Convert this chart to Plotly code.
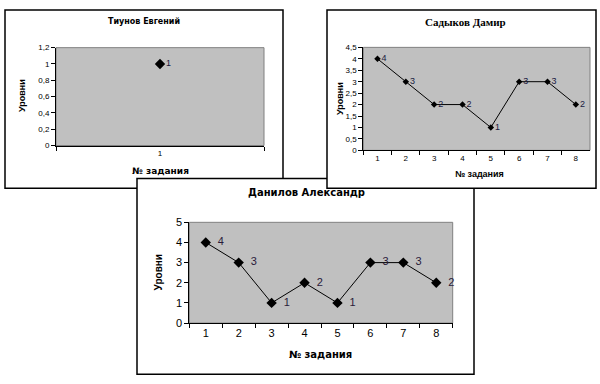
import plotly.graph_objects as go

# ---- data ----
tiunov_tasks = ["1"]
tiunov_levels = [1]

sadykov_tasks = ["1", "2", "3", "4", "5", "6", "7", "8"]
sadykov_levels = [4, 3, 2, 2, 1, 3, 3, 2]

danilov_tasks = ["1", "2", "3", "4", "5", "6", "7", "8"]
danilov_levels = [4, 3, 1, 2, 1, 3, 3, 2]

titles = ["Тиунов Евгений", "Садыков Дамир", "Данилов Александр"]
y_title = "Уровни"
x_title = "№ задания"

W, H = 600, 384


def px(x):
    return x / W


def py(y):
    return 1 - y / H


SANS = "Liberation Sans, Arial, sans-serif"
WIDE = "DejaVu Sans, Arial, sans-serif"
SERIF = "Liberation Serif"

fig = go.Figure()

fig.add_trace(go.Scatter(
    x=tiunov_tasks, y=tiunov_levels, xaxis="x", yaxis="y",
    mode="lines+markers+text", text=[str(v) for v in tiunov_levels],
    textposition="middle right", cliponaxis=False,
    line=dict(color="black", width=1),
    marker=dict(symbol="diamond", size=8, color="black"),
    textfont=dict(family=SANS, size=9, color="#1a1a40"),
    showlegend=False))

fig.add_trace(go.Scatter(
    x=sadykov_tasks, y=sadykov_levels, xaxis="x2", yaxis="y2",
    mode="lines+markers+text", text=[str(v) for v in sadykov_levels],
    textposition="middle right", cliponaxis=False,
    line=dict(color="black", width=1),
    marker=dict(symbol="diamond", size=5, color="black"),
    textfont=dict(family=SANS, size=9, color="#1a1a40"),
    showlegend=False))

fig.add_trace(go.Scatter(
    x=danilov_tasks, y=danilov_levels, xaxis="x3", yaxis="y3",
    mode="lines+markers+text", text=["  " + str(v) for v in danilov_levels],
    textposition="middle right", cliponaxis=False,
    line=dict(color="black", width=1),
    marker=dict(symbol="diamond", size=8, color="black"),
    textfont=dict(family=SANS, size=11, color="#2a1a3a"),
    showlegend=False))


def xax(domain, n, size):
    return dict(domain=domain, type="category", range=[-0.5, n - 0.5],
                tickson="boundaries", ticks="outside", ticklen=4,
                tickcolor="black", showline=True, linecolor="black",
                linewidth=1, showgrid=False, zeroline=False,
                tickfont=dict(family=SANS, size=size, color="black"),
                fixedrange=True)


def yax(domain, anchor, rng, dtick, size):
    return dict(domain=domain, anchor=anchor, range=rng, dtick=dtick,
                tick0=0, ticks="outside", ticklen=4, tickcolor="black",
                showline=True, linecolor="black", linewidth=1,
                showgrid=False, zeroline=False,
                tickfont=dict(family=SANS, size=size, color="black"),
                fixedrange=True)


layout = dict(
    width=W, height=H,
    margin=dict(l=0, r=0, t=0, b=0),
    paper_bgcolor="white",
    plot_bgcolor="rgba(0,0,0,0)",
    separators=", ",
    xaxis=dict(xax([px(56), px(264)], 1, 8), anchor="y"),
    yaxis=yax([py(144), py(43)], "x", [0, 1.2], 0.2, 8),
    xaxis2=dict(xax([px(363.3), px(590)], 8, 8), anchor="y2"),
    yaxis2=yax([py(149), py(42.7)], "x2", [0, 4.5], 0.5, 8),
    xaxis3=dict(xax([px(189.3), px(452.7)], 8, 11), anchor="y3"),
    yaxis3=yax([py(327.3), py(223.3)], "x3", [0, 5], 1, 11),
)
fig.update_layout(**layout)

shapes = []


def panel(x0, y0, x1, y1):
    shapes.append(dict(type="rect", xref="paper", yref="paper",
                       x0=px(x0), x1=px(x1), y0=py(y1), y1=py(y0),
                       fillcolor="white", line=dict(color="black", width=1.5),
                       layer="below"))


def plotarea(xr, yr):
    shapes.append(dict(type="rect", xref=xr + " domain", yref=yr + " domain",
                       x0=0, x1=1, y0=0, y1=1, fillcolor="#C0C0C0",
                       line=dict(color="#808080", width=1), layer="below"))


panel(5, 4, 283, 188)
plotarea("x", "y")
panel(137, 178, 474, 380)
plotarea("x3", "y3")
panel(327, 4, 596, 188)
plotarea("x2", "y2")
fig.update_layout(shapes=shapes)

ann = []


def text(x, y, s, fam, size, angle=0, bold=True):
    ann.append(dict(x=px(x), y=py(y), xref="paper", yref="paper",
                    text=("<b>%s</b>" % s) if bold else s, showarrow=False,
                    textangle=angle, xanchor="center", yanchor="middle",
                    font=dict(family=fam, size=size, color="black")))


text(143.5, 16, titles[0], WIDE, 8)
text(22, 93, y_title, SANS, 9, -90)
text(160, 170, x_title, WIDE, 9)

text(465, 17, titles[1], SERIF, 11)
text(340, 96, y_title, SANS, 9, -90)
text(479, 173, x_title, SANS, 9)

text(306, 192, titles[2], WIDE, 10)
text(158, 275, y_title, SANS, 10, -90)
text(320, 360, x_title, WIDE, 10)

fig.update_layout(annotations=ann)

fig.write_html("out.html", config={"displayModeBar": False},
               post_script="document.body.style.margin='0';")
